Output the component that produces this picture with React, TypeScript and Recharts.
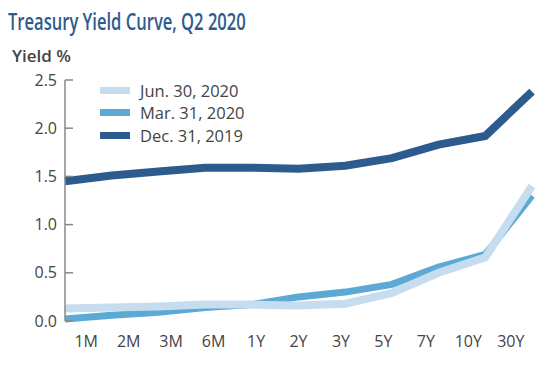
import React from "react";
import { LineChart, Line, XAxis, YAxis } from "recharts";

const tenors = ["1M", "2M", "3M", "6M", "1Y", "2Y", "3Y", "5Y", "7Y", "10Y", "30Y"];
const jun2020 = [0.13, 0.14, 0.15, 0.17, 0.17, 0.16, 0.18, 0.29, 0.5, 0.66, 1.4];
const mar2020 = [0.02, 0.06, 0.09, 0.14, 0.17, 0.25, 0.3, 0.38, 0.56, 0.69, 1.3];
const dec2019 = [1.45, 1.51, 1.55, 1.59, 1.59, 1.58, 1.61, 1.69, 1.83, 1.92, 2.38];
const yTicks = [0, 0.5, 1, 1.5, 2, 2.5];

const series = [
  { key: "jun", name: "Jun. 30, 2020", color: "#c6dcef" },
  { key: "mar", name: "Mar. 31, 2020", color: "#5ca9d6" },
  { key: "dec", name: "Dec. 31, 2019", color: "#2e5b8e" },
];

const data = tenors.map((t, i) => ({
  pos: i,
  tenor: t,
  jun: jun2020[i],
  mar: mar2020[i],
  dec: dec2019[i],
}));

const font = "'Open Sans', 'Noto Sans', sans-serif";
const tickStyle = { fontSize: 15, fill: "#444", fontFamily: font };

export default function App() {
  return (
    <div style={{ position: "absolute", left: 0, top: 0, width: 544, height: 375, background: "#fff" }}>
      <div
        style={{
          position: "absolute",
          left: 8,
          top: 5,
          whiteSpace: "nowrap",
          fontFamily: font,
          fontWeight: 600,
          fontSize: 23,
          color: "#2e5b8e",
          transform: "scaleX(0.72)",
          transformOrigin: "0 0",
        }}
      >
        Treasury Yield Curve, Q2 2020
      </div>
      <div
        style={{
          position: "absolute",
          left: 12,
          top: 44,
          fontFamily: font,
          fontWeight: 600,
          fontSize: 17,
          color: "#444",
        }}
      >
        Yield %
      </div>
      <div style={{ position: "absolute", left: 100, top: 79, fontFamily: font, fontSize: 16.5, color: "#444" }}>
        {series.map((s) => (
          <div key={s.key} style={{ display: "flex", alignItems: "center", height: 22.5 }}>
            <span style={{ display: "inline-block", width: 30, height: 7, background: s.color, marginRight: 10 }} />
            {s.name}
          </div>
        ))}
      </div>
      <LineChart width={544} height={375} data={data} margin={{ top: 80, right: 12, bottom: 24, left: 0 }}>
        <XAxis xAxisId="pos" type="number" dataKey="pos" domain={[0, 10]} hide />
        <XAxis
          xAxisId="grid"
          type="number"
          dataKey="pos"
          domain={[0, 11]}
          ticks={[0, 1, 2, 3, 4, 5, 6, 7, 8, 9, 10, 11]}
          tick={false}
          tickSize={-6}
          height={0}
          axisLine={{ stroke: "#888", strokeWidth: 1.5 }}
          tickLine={{ stroke: "#888", strokeWidth: 1.5 }}
        />
        <XAxis
          xAxisId="cat"
          type="number"
          dataKey="pos"
          domain={[0, 11]}
          ticks={[0.5, 1.5, 2.5, 3.5, 4.5, 5.5, 6.5, 7.5, 8.5, 9.5, 10.5]}
          tickFormatter={(v: number) => tenors[Math.floor(v)]}
          axisLine={false}
          tickLine={false}
          tickMargin={9}
          height={30}
          tick={{ ...tickStyle, fontSize: 16 }}
          interval={0}
        />
        <YAxis
          type="number"
          domain={[0, 2.5]}
          ticks={yTicks}
          tickFormatter={(v: number) => v.toFixed(1)}
          width={65}
          tickSize={-8}
          tickMargin={16}
          axisLine={{ stroke: "#888", strokeWidth: 1.5 }}
          tickLine={{ stroke: "#888", strokeWidth: 1.5 }}
          tick={{ ...tickStyle, fontSize: 16 }}
          interval={0}
        />
        <Line xAxisId="pos" dataKey="dec" stroke="#2e5b8e" strokeWidth={8} dot={false} activeDot={false} isAnimationActive={false} />
        <Line xAxisId="pos" dataKey="mar" stroke="#5ca9d6" strokeWidth={7} dot={false} activeDot={false} isAnimationActive={false} />
        <Line xAxisId="pos" dataKey="jun" stroke="#c6dcef" strokeWidth={8} dot={false} activeDot={false} isAnimationActive={false} />
      </LineChart>
    </div>
  );
}
